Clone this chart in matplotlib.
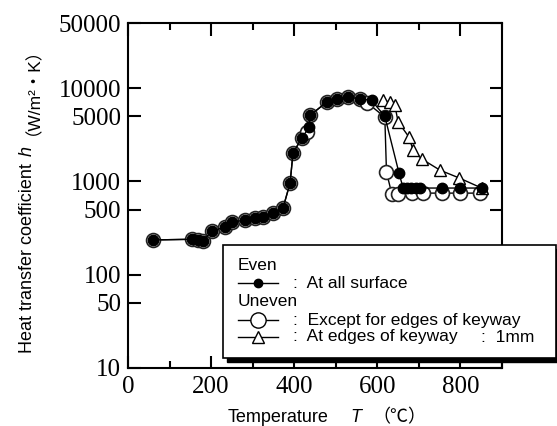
import numpy as np
import matplotlib
matplotlib.use('Agg')
import matplotlib.pyplot as plt
from matplotlib.lines import Line2D
from matplotlib.patches import Rectangle

# data (T in degC, h in W/m2K)
T_even = [60, 154, 168, 180, 202, 233, 250, 281, 306, 325, 349, 373, 390, 397, 418, 436, 438,
          478, 502, 530, 558, 586, 618, 652, 662, 672, 682, 692, 702, 755, 799, 851]
h_even = [236, 240, 235, 230, 294, 324, 367, 385, 408, 415, 457, 519, 960, 2000, 2920, 3800, 5100,
          7100, 7700, 8000, 7700, 7400, 5000, 1240, 850, 850, 850, 850, 850, 850, 850, 850]

T_open = [60, 154, 168, 180, 202, 233, 250, 281, 306, 325, 349, 373, 390, 397, 418, 430, 438,
          478, 502, 530, 558, 575, 618, 622, 635, 650, 683, 710, 755, 799, 847]
h_open = [236, 240, 235, 230, 294, 324, 367, 385, 408, 415, 457, 519, 960, 2000, 2920, 3400, 5100,
          7100, 7700, 8000, 7700, 7000, 4900, 1260, 730, 730, 750, 750, 750, 750, 750]

T_tri = [614, 630, 642, 650, 676, 686, 707, 751, 797, 851]
h_tri = [7400, 7100, 6600, 4350, 3000, 2170, 1740, 1320, 1090, 850]

yticks = [10, 50, 100, 500, 1000, 5000, 10000, 50000]
xticks = [0, 200, 400, 600, 800]

W, H = 557, 426
fig = plt.figure(figsize=(W/100, H/100), dpi=100)
ax = fig.add_axes([128/W, 1-368/H, (502-128)/W, (368-23)/H])

# open circles below, triangles, filled on top
ax.plot(T_open, h_open, '-', color='black', lw=1, marker='o', ms=10, mfc='white',
        mec='#222222', mew=1.2, zorder=2)
ax.plot(T_tri, h_tri, '-', color='black', lw=1, marker='^', ms=9, mfc='white',
        mec='black', mew=1, zorder=3)
ax.plot(T_even, h_even, '-', color='black', lw=1, marker='o', ms=7.5, mfc='black',
        mec='black', zorder=4)

ax.set_yscale('log')
ax.set_xlim(0, 900)
ax.set_ylim(10, 50000)
ax.set_yticks(yticks)
ax.set_yticklabels([str(v) for v in yticks])
ax.yaxis.set_minor_locator(matplotlib.ticker.NullLocator())
ax.set_xticks(xticks)
ax.set_xticks([100, 300, 500, 700, 900], minor=True)

for lab in ax.get_xticklabels() + ax.get_yticklabels():
    lab.set_fontfamily('Liberation Serif')
    lab.set_fontsize(18)

ax.tick_params(axis='both', which='both', direction='in', top=True, right=True, width=1.5)
ax.tick_params(axis='y', which='major', length=9, pad=5)
ax.tick_params(axis='x', which='major', length=9, pad=6)
ax.tick_params(axis='x', which='minor', length=5)
for s in ax.spines.values():
    s.set_linewidth(1.5)

fam = ['Liberation Sans', 'Noto Sans CJK JP']
# y label in pieces (italic h), all on a common baseline
bx = 32/W
fig.text(bx, 1-353/H, 'Heat transfer coefficient', rotation=90, rotation_mode='anchor',
         ha='left', va='baseline', fontsize=13, family=fam)
fig.text(bx, 1-156/H, 'h', rotation=90, rotation_mode='anchor', ha='left', va='baseline',
         fontsize=13, family=fam, style='italic')
fig.text(bx - 3/W, 1-30/H, '（W/m²・K）', rotation=90, rotation_mode='anchor', ha='right',
         va='baseline', fontsize=12.5, family=fam)
# x label in pieces (italic T)
fig.text(228/W, 1-418/H, 'Temperature', ha='left', va='center', fontsize=13, family=fam)
fig.text(356/W, 1-418/H, 'T', ha='center', va='center', fontsize=13, family=fam,
         style='italic')
fig.text(372/W, 1-418/H, '（℃）', ha='left', va='center', fontsize=13, family=fam)

# legend box (extends past the axes, drawn in figure coords)
bx0, bx1, by0, by1 = 223, 556, 245, 358
fig.add_artist(Rectangle((bx0/W + 4/W, 1-(by1+4)/H), (bx1-bx0)/W, (by1-by0)/H,
                         transform=fig.transFigure, facecolor='black', edgecolor='black', zorder=5))
fig.add_artist(Rectangle((bx0/W, 1-by1/H), (bx1-bx0)/W, (by1-by0)/H,
                         transform=fig.transFigure, facecolor='white', edgecolor='black',
                         lw=1.2, zorder=6))

def sample(py, marker, ms, mfc):
    fig.add_artist(Line2D([238/W, 278/W], [1-py/H, 1-py/H], transform=fig.transFigure,
                          color='black', lw=1, zorder=7))
    fig.add_artist(Line2D([258/W], [1-py/H], transform=fig.transFigure, marker=marker,
                          ms=ms, mfc=mfc, mec='black', color='black', zorder=8))

lf = 12.5
fig.text(238/W, 1-265/H, 'Even', va='center', fontsize=lf, family=fam, zorder=9)
sample(283, 'o', 6, 'black')
fig.text(293/W, 1-283/H, ':  At all surface', va='center', fontsize=lf, family=fam, zorder=9)
fig.text(238/W, 1-302/H, 'Uneven', va='center', fontsize=lf, family=fam, zorder=9)
sample(320, 'o', 11, 'white')
fig.text(293/W, 1-320/H, ':  Except for edges of keyway', va='center', fontsize=lf, family=fam, zorder=9)
sample(337, '^', 9, 'white')
fig.text(293/W, 1-337/H, ':  At edges of keyway', va='center', fontsize=lf, family=fam, zorder=9)
fig.text(481/W, 1-337/H, ':  1mm', va='center', fontsize=lf, family=fam, zorder=9)

fig.savefig('out.png', dpi=100)
